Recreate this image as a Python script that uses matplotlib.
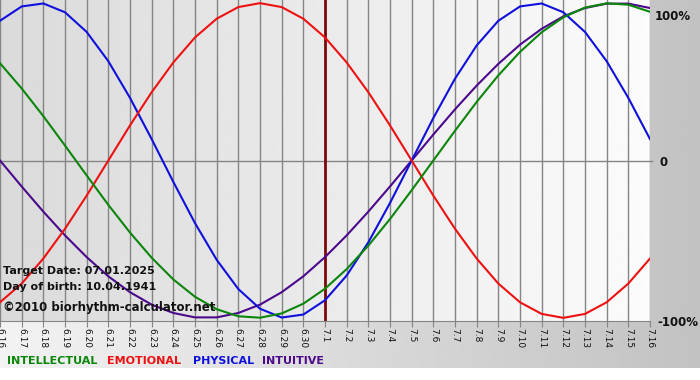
import numpy as np
import matplotlib
matplotlib.use("Agg")
import matplotlib.pyplot as plt

# days shown on the x axis
days = ["6.16", "6.17", "6.18", "6.19", "6.20", "6.21", "6.22", "6.23", "6.24", "6.25",
        "6.26", "6.27", "6.28", "6.29", "6.30", "7.1", "7.2", "7.3", "7.4", "7.5",
        "7.6", "7.7", "7.8", "7.9", "7.10", "7.11", "7.12", "7.13", "7.14", "7.15", "7.16"]
target_day = "7.1"

# curve values per day (-1 .. 1)
intellectual = [0.618, 0.458, 0.282, 0.095, -0.095, -0.282, -0.458, -0.618, -0.756, -0.866,
                -0.945, -0.990, -0.999, -0.972, -0.910, -0.815, -0.690, -0.541, -0.372, -0.189,
                0.0, 0.189, 0.372, 0.541, 0.690, 0.815, 0.910, 0.972, 0.999, 0.990, 0.945]
emotional = [-0.901, -0.782, -0.623, -0.434, -0.223, 0.0, 0.223, 0.434, 0.623, 0.782,
             0.901, 0.975, 1.0, 0.975, 0.901, 0.782, 0.623, 0.434, 0.223, 0.0,
             -0.223, -0.434, -0.623, -0.782, -0.901, -0.975, -1.0, -0.975, -0.901, -0.782, -0.623]
physical = [0.888, 0.979, 0.998, 0.942, 0.817, 0.631, 0.398, 0.136, -0.136, -0.398,
            -0.631, -0.817, -0.942, -0.998, -0.979, -0.888, -0.731, -0.520, -0.270, 0.0,
            0.270, 0.520, 0.731, 0.888, 0.979, 0.998, 0.942, 0.817, 0.631, 0.398, 0.136]
intuitive = [0.0, -0.165, -0.325, -0.476, -0.614, -0.736, -0.837, -0.916, -0.969, -0.997,
             -0.997, -0.969, -0.916, -0.837, -0.736, -0.614, -0.476, -0.325, -0.165, 0.0,
             0.165, 0.325, 0.476, 0.614, 0.736, 0.837, 0.916, 0.969, 0.997, 0.997, 0.969]

series = [
    ("INTUITIVE", intuitive, "#4b0a8c"),
    ("PHYSICAL", physical, "#1010dd"),
    ("EMOTIONAL", emotional, "#ee1111"),
    ("INTELLECTUAL", intellectual, "#0a860a"),
]

W, H = 700, 380
fig = plt.figure(figsize=(W / 100, H / 100), dpi=100)

# figure background: light on the left, grey on the right, white strip at bottom
bg = fig.add_axes([0, 0, 1, 1], zorder=-5)
grad = np.linspace(0.95, 0.76, 256).reshape(1, -1)
bg.imshow(np.repeat(grad, 2, axis=0), cmap="gray", vmin=0, vmax=1, aspect="auto",
          extent=[0, W, 12, H], interpolation="bilinear")
bg.set_xlim(0, W)
bg.set_ylim(0, H)
bg.axis("off")

pl, pr, pt, pb = 0, 650, 0, 321
ax = fig.add_axes([pl / W, (H - pb) / H, (pr - pl) / W, (pb - pt) / H])
x = np.arange(len(days))
ax.set_xlim(0, len(days) - 1)
ax.set_ylim(-1.02, 1.02)

# plot area gradient
pg = np.linspace(0.855, 0.985, 256).reshape(1, -1)
ax.imshow(np.repeat(pg, 2, axis=0), cmap="gray", vmin=0, vmax=1, aspect="auto",
          extent=[0, len(days) - 1, -1.02, 1.02], interpolation="bilinear", zorder=0)

for xi in x:
    ax.axvline(xi, color="#858585", lw=1, zorder=1)
ax.plot([0, len(days) - 1 + 0.1], [0, 0], color="#858585", lw=1, zorder=1, clip_on=False)
ax.axvline(days.index(target_day), color="#7a0a0a", lw=2, zorder=2)

for name, vals, col in series:
    ax.plot(x, vals, color=col, lw=1.5, zorder=3)

for s in ["top", "left", "right"]:
    ax.spines[s].set_visible(False)
ax.spines["bottom"].set_color("#858585")
ax.set_yticks([])
ax.set_xticks(x)
ax.set_xticklabels(days, rotation=270, fontsize=6.5, color="#111111")
ax.tick_params(axis="x", length=4, color="#858585", pad=1)

ax.text(0.004, 0.155, "Target Date: 07.01.2025", transform=ax.transAxes, fontsize=8,
        fontweight="bold", color="#111111", va="center", zorder=4)
ax.text(0.004, 0.105, "Day of birth: 10.04.1941", transform=ax.transAxes, fontsize=8,
        fontweight="bold", color="#111111", va="center", zorder=4)
ax.text(0.004, 0.043, "\u00a92010 biorhythm-calculator.net", transform=ax.transAxes,
        fontsize=8.5, fontweight="bold", color="#111111", va="center", zorder=4)

fig.text(655 / W, 1 - 17 / H, "100%", fontsize=8.5, fontweight="bold", color="#111111", va="center")
fig.text(660 / W, 1 - 162 / H, "0", fontsize=8.5, fontweight="bold", color="#111111", va="center")
fig.text(657 / W, 1 - 322 / H, "-100%", fontsize=8.5, fontweight="bold", color="#111111", va="center")

legend_x = {"INTELLECTUAL": 7, "EMOTIONAL": 107, "PHYSICAL": 193, "INTUITIVE": 262}
for name, vals, col in series:
    fig.text(legend_x[name] / W, 1 - 361 / H, name, fontsize=8, fontweight="bold",
             color=col, va="center")

fig.savefig("out.png", dpi=100)
